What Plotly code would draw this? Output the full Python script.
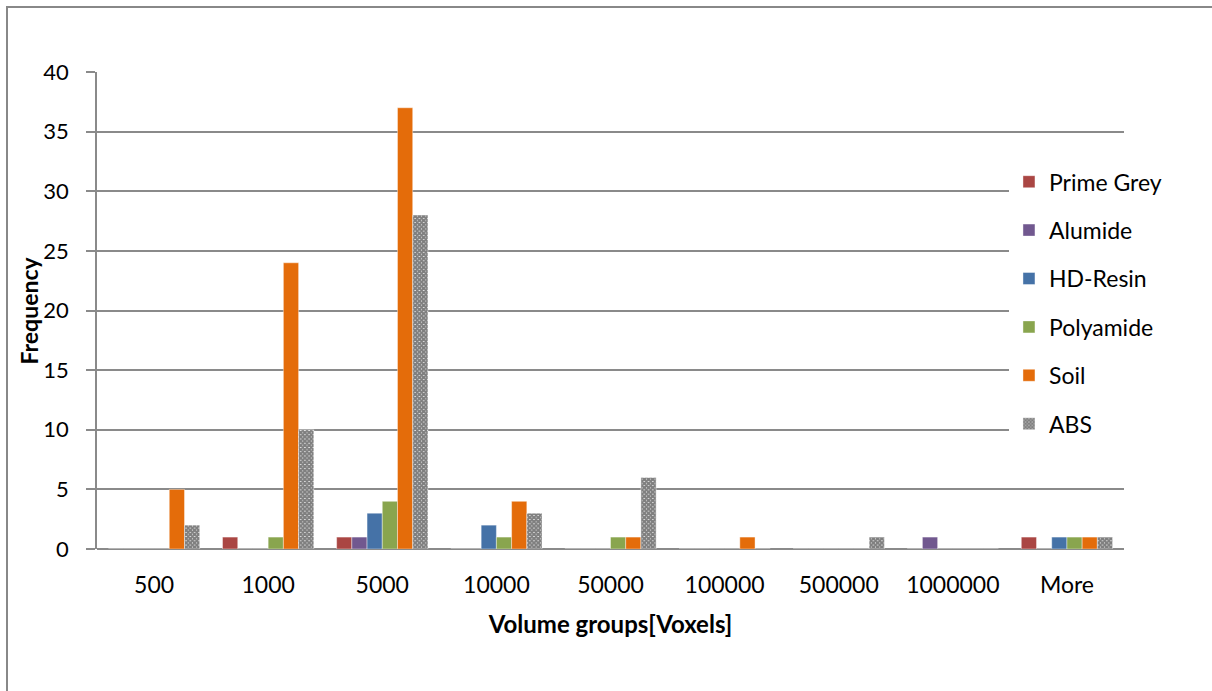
import plotly.graph_objects as go

# Volume-group histogram per material
groups = ["500", "1000", "5000", "10000", "50000", "100000", "500000", "1000000", "More"]

prime_grey = [0, 1, 1, 0, 0, 0, 0, 0, 1]
alumide = [0, 0, 1, 0, 0, 0, 0, 1, 0]
hd_resin = [0, 0, 3, 2, 0, 0, 0, 0, 1]
polyamide = [0, 1, 4, 1, 1, 0, 0, 0, 1]
soil = [5, 24, 37, 4, 1, 1, 0, 0, 1]
abs_vals = [2, 10, 28, 3, 6, 0, 1, 0, 1]

series = [
    ("Prime Grey", prime_grey, "#AA4643"),
    ("Alumide", alumide, "#71588F"),
    ("HD-Resin", hd_resin, "#4572A7"),
    ("Polyamide", polyamide, "#89A54E"),
    ("Soil", soil, "#E46C0A"),
]

FONT = "Lato"
GRID = "#8A8A8A"

fig = go.Figure()
for i, (name, vals, color) in enumerate(series):
    fig.add_trace(go.Bar(
        x=groups, y=vals, name=name, legendgroup=f"g{i}",
        marker=dict(color=color, line=dict(color="rgba(255,255,255,0.5)", width=0.8)),
    ))

fig.add_trace(go.Bar(
    x=groups, y=abs_vals, name="ABS", legendgroup="g5",
    marker=dict(
        color="white",
        line=dict(color="rgba(255,255,255,0.5)", width=0.8),
        pattern=dict(shape="x", fgcolor="black", bgcolor="white", size=3, solidity=0.9),
    ),
))

fig.update_layout(
    width=1212, height=691,
    margin=dict(l=97, r=88, t=72, b=142),
    paper_bgcolor="white", plot_bgcolor="white",
    barmode="group", bargap=0.2, bargroupgap=0,
    font=dict(family=FONT, size=22, color="black"),
    showlegend=True,
    legend=dict(
        x=0.888, xanchor="left", y=0.815, yanchor="top",
        bgcolor="white", borderwidth=0,
        font=dict(family=FONT, size=23, color="black"),
        tracegroupgap=15.5, itemwidth=30,
    ),
    xaxis=dict(
        showgrid=False, showline=False, ticks="", zeroline=False,
        tickfont=dict(family=FONT, size=23), ticklabelstandoff=20,
        title=dict(text="<b>Volume groups[Voxels]</b>", font=dict(family=FONT, size=24), standoff=19),
    ),
    yaxis=dict(
        range=[0, 40], dtick=5,
        showgrid=True, gridcolor=GRID, gridwidth=1.5,
        zeroline=True, zerolinecolor=GRID, zerolinewidth=2,
        showline=True, linecolor=GRID, linewidth=1.5,
        ticks="outside", ticklen=9, tickcolor=GRID, tickwidth=1.5,
        tickfont=dict(family=FONT, size=22), ticklabelstandoff=13,
    ),
    annotations=[dict(
        text="<b>Frequency</b>", textangle=-90,
        xref="paper", yref="paper", x=(28 - 97) / 1027, y=0.5,
        xanchor="center", yanchor="middle", showarrow=False,
        font=dict(family=FONT, size=23, color="black"),
    )],
)

# outer chart frame (left and top edges lie inside the page)
fig.add_shape(
    type="rect", xref="paper", yref="paper",
    x0=(7 - 97) / 1027, x1=1.2, y0=-0.5, y1=1 + (72 - 7) / 477,
    line=dict(color="#888888", width=2), fillcolor="rgba(0,0,0,0)", layer="below",
)

fig.write_html("out.html")
